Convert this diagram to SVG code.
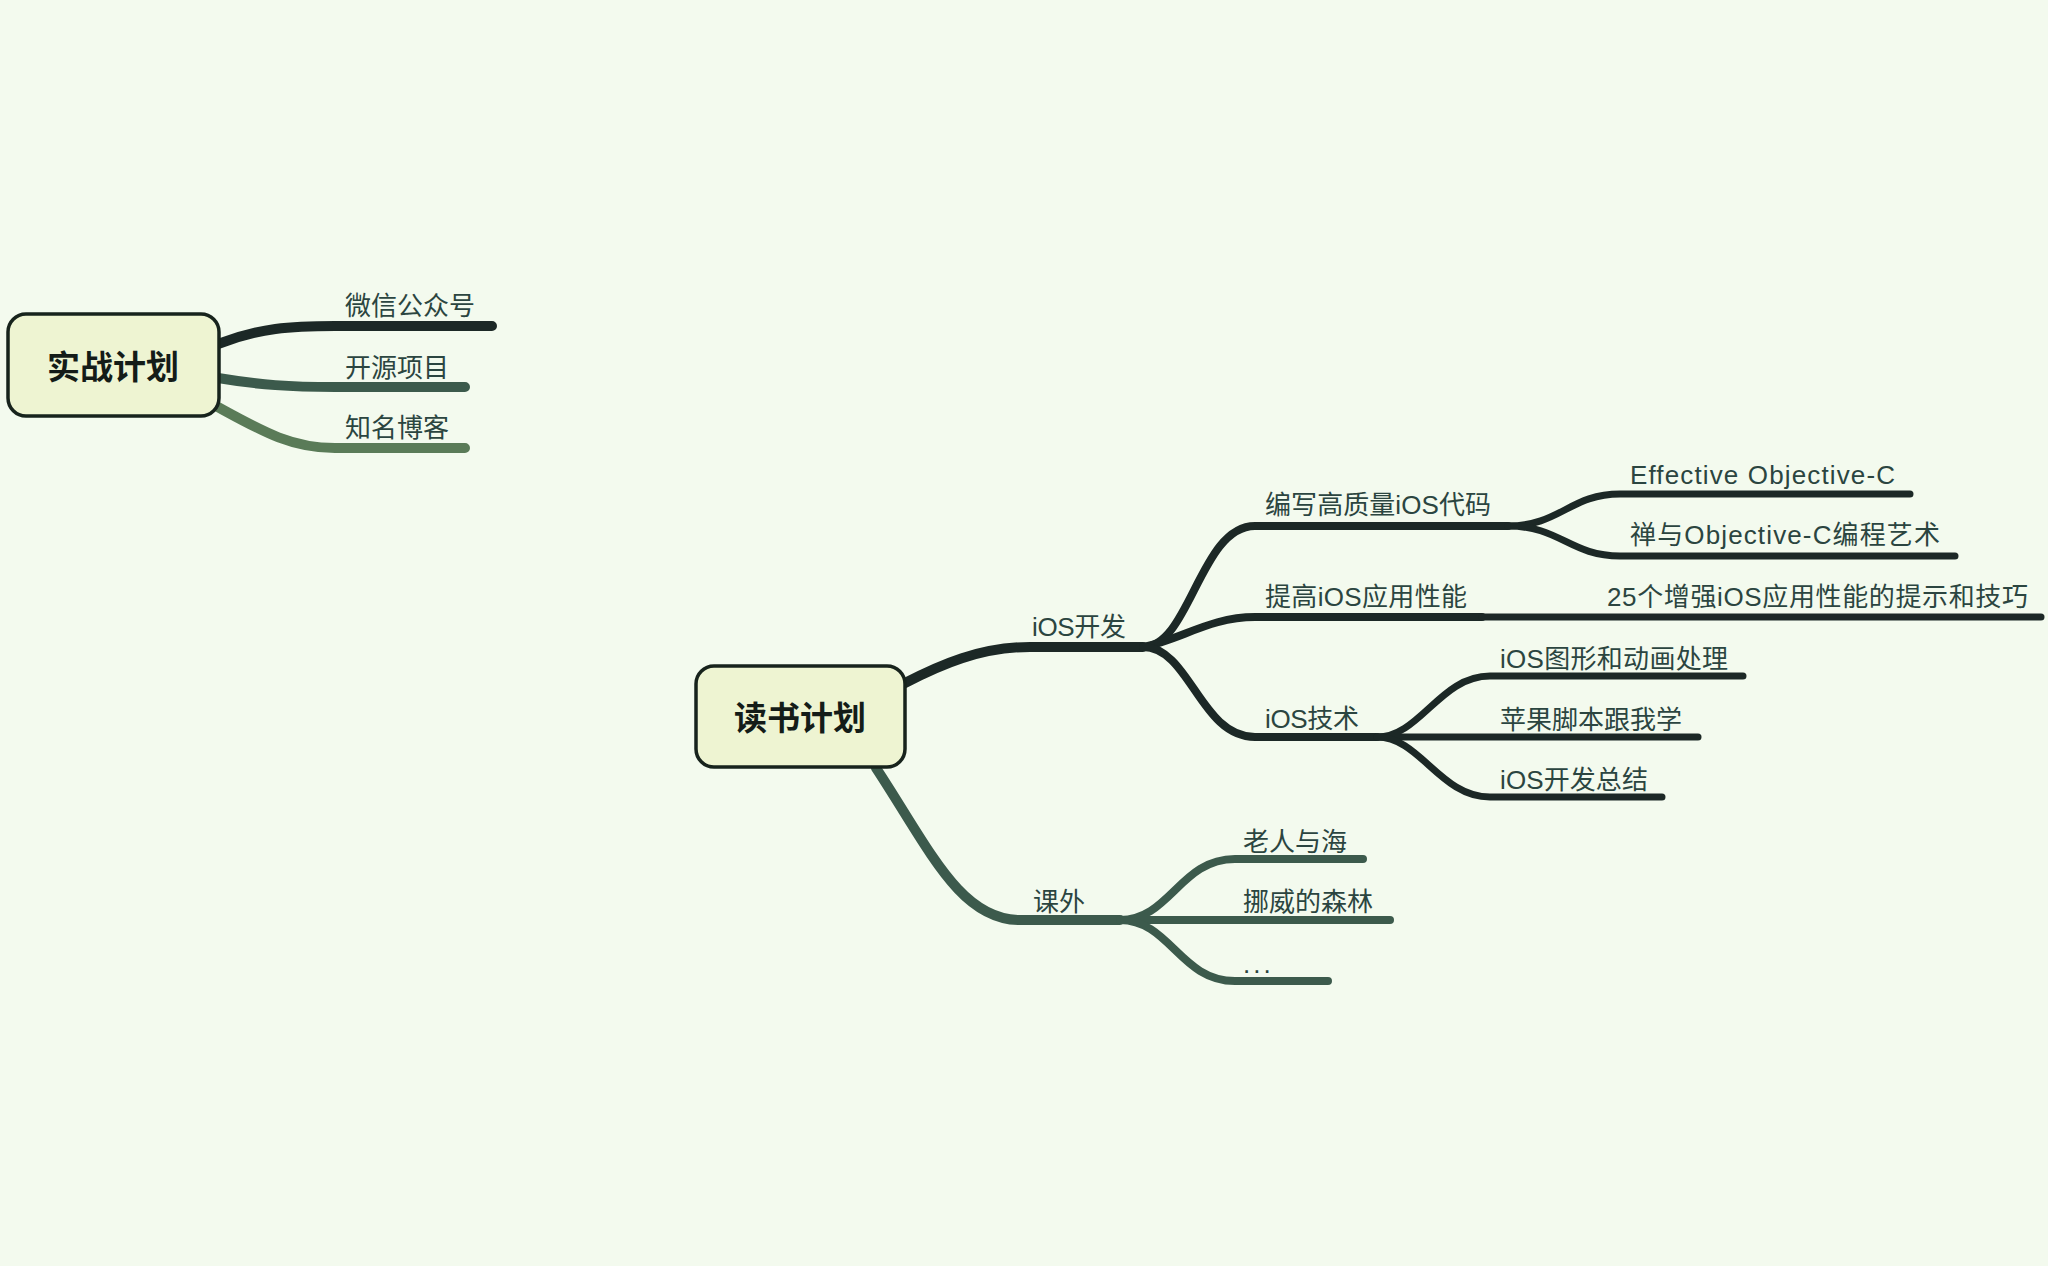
<svg xmlns="http://www.w3.org/2000/svg" width="2048" height="1266" viewBox="0 0 2048 1266">
<style>
.bg{fill:#f3faee}
.box{fill:#eef4d2;stroke:#17231c;stroke-width:3.5}
.title{font-family:"Liberation Sans","Noto Sans CJK SC",sans-serif;font-size:33px;font-weight:bold;fill:#141c18;text-anchor:middle}
.lbl{font-family:"Liberation Sans","Noto Sans CJK SC",sans-serif;font-size:26px;fill:#2b4540}
.c{fill:none;stroke-linecap:round;stroke-linejoin:round}
.d{stroke:#1c2826}
.m{stroke:#3c5a4c}
.l{stroke:#5a7b58}
.w10{stroke-width:10}
.w8{stroke-width:8}
.w7{stroke-width:7}
</style>
<rect class="bg" x="0" y="0" width="2048" height="1266"/>
<g id="connectors">
  <path class="c d w10" d="M 218 344 C 260 328, 290 326, 335 326 L 492 326"/>
  <path class="c m w10" d="M 218 378 C 260 385, 290 387, 335 387 L 465 387"/>
  <path class="c l w10" d="M 216 406 C 260 430, 290 448, 335 448 L 465 448"/>
  <path class="c d w10" d="M 905 683 C 940 665, 980 647, 1030 647 L 1143 647"/>
  <path class="c d w8" d="M 1143 647 C 1190 647, 1200 526, 1255 526 L 1508 526"/>
  <path class="c d w8" d="M 1143 647 C 1180 640, 1210 617, 1255 617 L 1482 617"/>
  <path class="c d w8" d="M 1143 647 C 1190 647, 1200 737, 1255 737 L 1377 737"/>
  <path class="c d w7" d="M 1508 526 C 1560 526, 1570 494, 1620 494 L 1910 494"/>
  <path class="c d w7" d="M 1508 526 C 1560 526, 1570 556, 1620 556 L 1955 556"/>
  <path class="c d w7" d="M 1482 617 L 2041 617"/>
  <path class="c d w7" d="M 1377 737 C 1420 737, 1440 676, 1490 676 L 1743 676"/>
  <path class="c d w7" d="M 1377 737 L 1698 737"/>
  <path class="c d w7" d="M 1377 737 C 1420 737, 1440 797, 1490 797 L 1662 797"/>
  <path class="c m w10" d="M 876 768 C 930 850, 960 920, 1020 920 L 1120 920"/>
  <path class="c m w8" d="M 1120 920 C 1170 920, 1180 859, 1235 859 L 1363 859"/>
  <path class="c m w8" d="M 1120 920 L 1390 920"/>
  <path class="c m w8" d="M 1120 920 C 1170 920, 1180 981, 1235 981 L 1328 981"/>
</g>
<g id="n-shizhan">
  <rect class="box" x="8" y="314" width="211" height="102" rx="18"/>
  <text class="title" x="113" y="379">实战计划</text>
</g>
<g id="n-weixin"><text class="lbl" x="345" y="315">微信公众号</text></g>
<g id="n-kaiyuan"><text class="lbl" x="345" y="377">开源项目</text></g>
<g id="n-boke"><text class="lbl" x="345" y="437">知名博客</text></g>
<g id="n-dushu">
  <rect class="box" x="696" y="666" width="209" height="101" rx="18"/>
  <text class="title" x="800" y="730">读书计划</text>
</g>
<g id="n-iosdev"><text class="lbl" x="1032" y="636" textLength="94">iOS开发</text></g>
<g id="n-bianxie"><text class="lbl" x="1265" y="514" textLength="226">编写高质量iOS代码</text></g>
<g id="n-tigao"><text class="lbl" x="1265" y="606" textLength="202">提高iOS应用性能</text></g>
<g id="n-iostech"><text class="lbl" x="1265" y="728" textLength="94">iOS技术</text></g>
<g id="n-effective"><text class="lbl" x="1630" y="484" textLength="265">Effective Objective-C</text></g>
<g id="n-chan"><text class="lbl" x="1630" y="544" textLength="310">禅与Objective-C编程艺术</text></g>
<g id="n-25"><text class="lbl" x="1607" y="606" textLength="421">25个增强iOS应用性能的提示和技巧</text></g>
<g id="n-tuxing"><text class="lbl" x="1500" y="668" textLength="228">iOS图形和动画处理</text></g>
<g id="n-pingguo"><text class="lbl" x="1500" y="729">苹果脚本跟我学</text></g>
<g id="n-zongjie"><text class="lbl" x="1500" y="789" textLength="148">iOS开发总结</text></g>
<g id="n-kewai"><text class="lbl" x="1033" y="911">课外</text></g>
<g id="n-laoren"><text class="lbl" x="1243" y="851">老人与海</text></g>
<g id="n-nuowei"><text class="lbl" x="1243" y="911">挪威的森林</text></g>
<g id="n-more"><text class="lbl" x="1243" y="973" letter-spacing="3">...</text></g>
</svg>
